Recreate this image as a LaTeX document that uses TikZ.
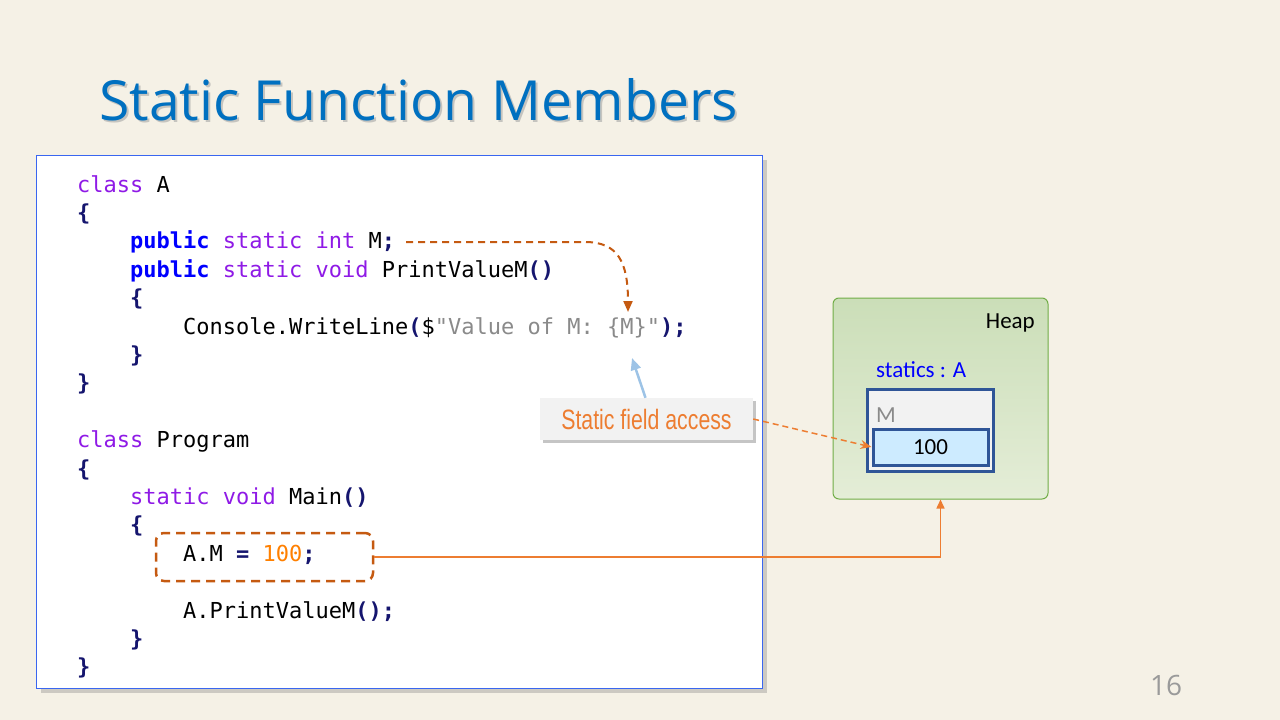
\documentclass[tikz,border=0pt]{standalone}
\usepackage{fontspec}
\setmainfont{Carlito}
\newfontfamily\codefont{DejaVu Sans Mono}
\newfontfamily\titlefont{Open Sans}
\newfontfamily\narrowfont[FakeStretch=0.76]{Liberation Sans}
\usetikzlibrary{shadows,arrows.meta}

\definecolor{bg}{HTML}{F5F1E6}
\definecolor{titleblue}{HTML}{0070C0}
\definecolor{codeborder}{HTML}{3A66F0}
\definecolor{kwpurple}{HTML}{8F1AE6}
\definecolor{kwblue}{HTML}{0000FF}
\definecolor{punct}{HTML}{15156E}
\definecolor{strgray}{HTML}{8A8A8A}
\definecolor{numorange}{HTML}{FF8000}
\definecolor{rust}{HTML}{C55A11}
\definecolor{accent}{HTML}{ED7D31}
\definecolor{lightblue}{HTML}{9DC3E6}
\definecolor{heapline}{HTML}{70AD47}
\definecolor{heaptop}{HTML}{CBDEB8}
\definecolor{heapbot}{HTML}{E4EDD7}
\definecolor{objline}{HTML}{2F5597}
\definecolor{objfill}{HTML}{F2F2F2}
\definecolor{cellfill}{HTML}{CDEBFF}
\definecolor{pagegray}{HTML}{9A9A9A}

% code tokens
\newcommand\kw[1]{\textcolor{kwpurple}{#1}}
\newcommand\pubkw[1]{\textcolor{kwblue}{\bfseries #1}}
\newcommand\pn[1]{\textcolor{punct}{\bfseries #1}}
\newcommand\strlit[1]{\textcolor{strgray}{#1}}
\newcommand\numlit[1]{\textcolor{numorange}{#1}}

\tikzset{
  codeline/.style={anchor=base west, inner sep=0pt, font=\codefont\fontsize{22}{26}\selectfont},
  heaptext/.style={inner sep=0pt, font=\fontsize{23}{27}\selectfont},
  objbox/.style={draw=objline, line width=3pt, rectangle},
}

\begin{document}
\begin{tikzpicture}[x=1pt,y=-1pt]
\fill[bg] (0,0) rectangle (1280,720);
\useasboundingbox (0,0) rectangle (1280,720);

% title with soft shadow
\node[anchor=base west, inner sep=0pt, text=black!35, opacity=0.6,
      font=\titlefont\fontsize{55.3}{62}\selectfont] (titleshadow) at (101,122) {Static Function Members};
\node[anchor=base west, inner sep=0pt, text=titleblue,
      font=\titlefont\fontsize{55.3}{62}\selectfont] (title) at (99,120) {Static Function Members};

% code panel
\node[draw=codeborder, fill=white, line width=1.2pt, rectangle, inner sep=0pt,
      minimum width=726pt, minimum height=533pt, anchor=north west,
      drop shadow={shadow xshift=4pt, shadow yshift=-4pt, opacity=0.35}] (code) at (36,155) {};

\node[codeline] (l1) at (77,192) {\kw{class} A};
\node[codeline] (l2) at (77,220.4) {\pn{\{}};
\node[codeline] (l3) at (130,248.8) {\pubkw{public} \kw{static} \kw{int} M\pn{;}};
\node[codeline] (l4) at (130,277.2) {\pubkw{public} \kw{static} \kw{void} PrintValueM\pn{()}};
\node[codeline] (l5) at (130,305.6) {\pn{\{}};
\node[codeline] (l6) at (183,334) {Console.WriteLine\pn{(}\$\strlit{"Value of M: \{M\}"}\pn{);}};
\node[codeline] (l7) at (130,362.4) {\pn{\}}};
\node[codeline] (l8) at (77,390.8) {\pn{\}}};
\node[codeline] (l9) at (77,447.6) {\kw{class} Program};
\node[codeline] (l10) at (77,476) {\pn{\{}};
\node[codeline] (l11) at (130,504.4) {\kw{static} \kw{void} Main\pn{()}};
\node[codeline] (l12) at (130,532.8) {\pn{\{}};
\node[codeline] (l13) at (183,561.2) {A.M \pn{=} \numlit{100}\pn{;}};
\node[codeline] (l14) at (183,618) {A.PrintValueM\pn{();}};
\node[codeline] (l15) at (130,646.4) {\pn{\}}};
\node[codeline] (l16) at (77,674.8) {\pn{\}}};

% dashed frame round the assignment
\node[draw=rust, line width=2.5pt, dash pattern=on 9pt off 6pt, rounded corners=8pt,
      rectangle, minimum width=217pt, minimum height=48pt] (assign) at (264.5,557) {};

% points inside the code
\coordinate (fieldend) at (406,242);
\coordinate (usetop) at (628,312);
\coordinate (usebottom) at (632,358);

% static field -> its use in the string
\draw[rust, line width=2pt, dash pattern=on 7pt off 5pt, -{Triangle[length=11pt,width=9pt]}]
  (fieldend) -- (585,242) .. controls (618,242) and (628,262) .. (usetop);

% callout
\node[fill=objfill, rectangle, minimum width=213pt, minimum height=42pt, inner sep=0pt,
      text=accent, font=\narrowfont\fontsize{28}{32}\selectfont,
      drop shadow={shadow xshift=3pt, shadow yshift=-3pt, opacity=0.45}] (callout) at (646.5,419) {Static field access};
\draw[lightblue, line width=2.5pt, -{Triangle[length=12pt,width=10pt]}] ([xshift=-1pt]callout.north) -- (usebottom);

% heap
\node[draw=heapline, line width=1pt, rounded corners=6pt, top color=heaptop, bottom color=heapbot,
      rectangle, minimum width=215pt, minimum height=201pt, inner sep=0pt] (heap) at (940.5,398.5) {};
\node[heaptext, anchor=base east] (heaplabel) at (1035,328) {Heap};
\node[heaptext, anchor=base west, text=kwblue] (statics) at (876,377) {statics : A};
\node[objbox, fill=objfill, minimum width=126pt, minimum height=82pt, inner sep=0pt] (obj) at (930,430) {};
\node[heaptext, anchor=base west, text=strgray] (fieldname) at (876,422) {M};
\node[objbox, fill=cellfill, minimum width=115pt, minimum height=36pt, inner sep=0pt,
      font=\fontsize{23}{27}\selectfont] (cell) at (930.5,447) {100};

% callout -> field cell
\draw[accent, line width=1.5pt, dash pattern=on 6pt off 4pt, -{Stealth[length=11pt,width=9pt]}]
  (callout.east) -- (cell.west);

% assignment -> heap
\draw[accent, line width=1.5pt, -{Triangle[length=9pt,width=8pt]}] (assign.east) -| (heap.south);

% page number
\node[inner sep=0pt, text=pagegray, font=\titlefont\fontsize{28}{32}\selectfont] (pageno) at (1166,685) {16};
\end{tikzpicture}
\end{document}
